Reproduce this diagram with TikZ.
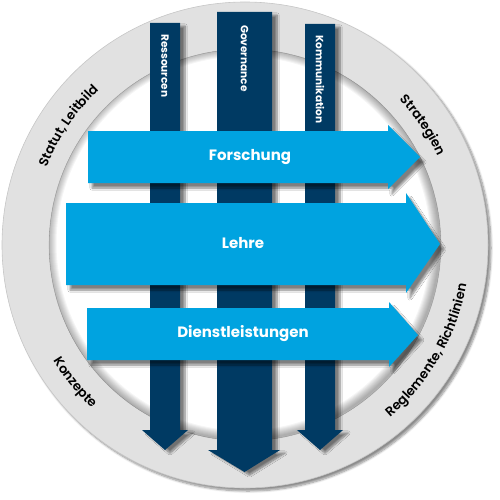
\documentclass[tikz,border=0pt]{standalone}
\usepackage{fontspec}
\setmainfont{Poppins}
\newfontfamily\ringfont{Poppins}[UprightFont={* SemiBold}]
\usetikzlibrary{decorations.text,shadows.blur}
\definecolor{streamblue}{HTML}{00A3E0}
\definecolor{pillarblue}{HTML}{003A63}
\definecolor{ringgrey}{HTML}{E1E1E1}
\tikzset{ring/.style={fill=ringgrey,draw=gray!45,line width=0.6pt,
        blur shadow={shadow xshift=3pt,shadow yshift=-3pt,shadow opacity=45,shadow blur steps=8}},
    hole/.style={fill=white,draw=gray!40,line width=0.6pt},
    pillar/.style={fill=pillarblue,
        blur shadow={shadow xshift=5pt,shadow yshift=-3pt,shadow opacity=50,shadow blur steps=8}},
    stream/.style={fill=streamblue,
        blur shadow={shadow xshift=4pt,shadow yshift=-5pt,shadow opacity=50,shadow blur steps=8}},
    streamlabel/.style={text=white,font=\bfseries\fontsize{15}{17}\selectfont},
    pillarlabel/.style={text=white,font=\bfseries\fontsize{10.5}{12}\selectfont,rotate=-90,anchor=west,inner sep=0pt},
    ringlabel/.style={decorate,decoration={text along path,text align=center,
        text={|\ringfont\fontsize{13}{15}\selectfont|#1}}}}

\begin{document}
\begin{tikzpicture}[x=1pt,y=1pt]
\useasboundingbox (0,0) rectangle (500,-500);
\coordinate (c) at (245,-245);
% the ring
\path[ring] (c) circle[radius=243];
\path[hole] (c) circle[radius=196];
\begin{scope}
  \clip (c) circle[radius=196];
  \foreach \w in {2,4,...,18}
    \draw[black,opacity=0.04,line width=\w pt] ([shift={(-1.5,1.5)}]c) circle[radius=196];
\end{scope}
\path[ringlabel={Statut, Leitbild}] ([shift={(176:213)}]c) arc[start angle=176,end angle=116,radius=213];
\path[ringlabel={Strategien}] ([shift={(64:212)}]c) arc[start angle=64,end angle=4,radius=212];
\path[ringlabel={Konzepte}] ([shift={(189:224)}]c) arc[start angle=189,end angle=249,radius=224];
\path[ringlabel={Reglemente, Richtlinien}] ([shift={(-74:225)}]c) arc[start angle=-74,end angle=14,radius=225];
% pillars
\path[pillar] (150,-23) -- (180,-23) -- (180,-430) -- (188,-430) -- (165,-450)
    -- (142,-430) -- (150,-430) -- cycle;
\path[pillar] (217,-12) -- (272,-12) -- (272,-450) -- (280,-450) -- (244.5,-472)
    -- (208,-450) -- (217,-450) -- cycle;
\path[pillar] (305,-24) -- (335,-24) -- (335,-430) -- (343,-430) -- (320,-450)
    -- (297,-430) -- (305,-430) -- cycle;
\node[pillarlabel] (ress) at (165,-34) {Ressourcen};
\node[pillarlabel] (gov) at (244.5,-25) {Governance};
\node[pillarlabel] (komm) at (320,-35) {Kommunikation};
% streams
\path[stream] (88,-131) -- (388,-131) -- (388,-125) -- (420,-157) -- (388,-189)
    -- (388,-183) -- (88,-183) -- cycle;
\path[stream] (66,-203) -- (406,-203) -- (406,-193) -- (440,-244) -- (406,-293)
    -- (406,-285) -- (66,-285) -- cycle;
\path[stream] (87,-308) -- (389,-308) -- (389,-302) -- (418,-335) -- (389,-367)
    -- (389,-360) -- (87,-360) -- cycle;
\node[streamlabel] (forschung) at (250,-157) {Forschung};
\node[streamlabel] (lehre) at (243,-243) {Lehre};
\node[streamlabel] (dienst) at (243,-334) {Dienstleistungen};
\end{tikzpicture}
\end{document}
